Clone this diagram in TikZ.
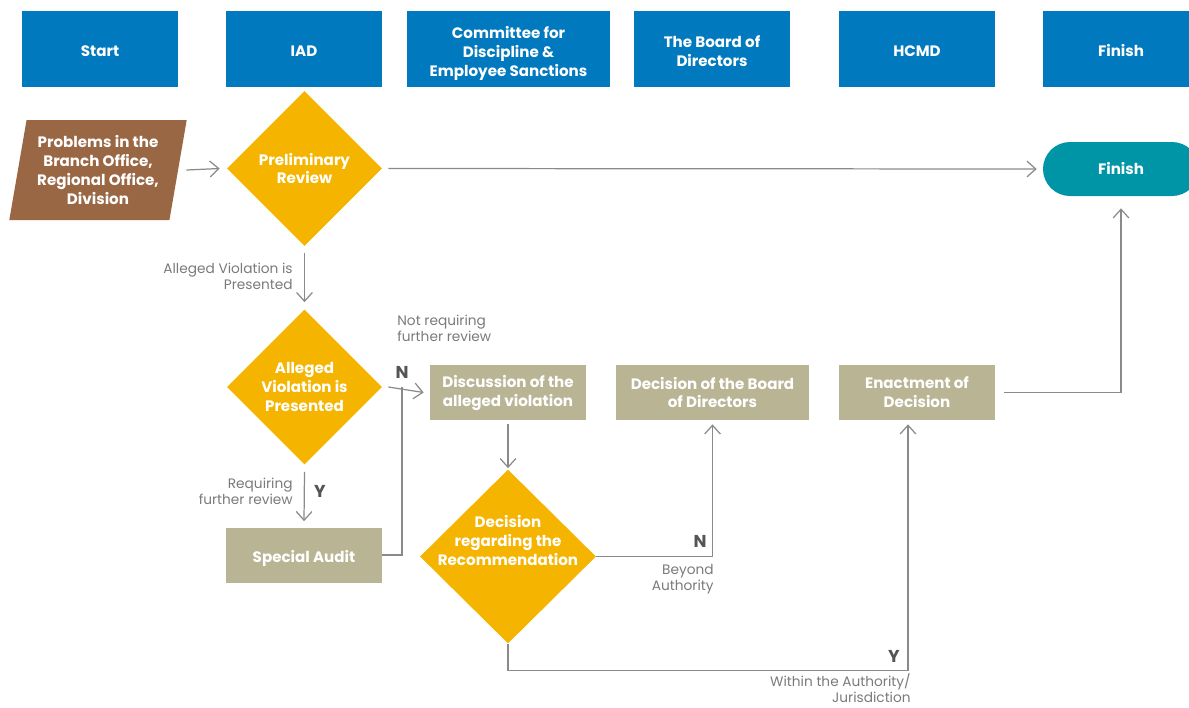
\documentclass[tikz,border=0pt]{standalone}
\usepackage{fontspec}
\setmainfont{Poppins}
\usetikzlibrary{shapes.geometric,arrows.meta}

\definecolor{hdrblue}{HTML}{0079BE}
\definecolor{stepTan}{HTML}{B9B494}
\definecolor{gold}{HTML}{F5B400}
\definecolor{clay}{HTML}{9A6744}
\definecolor{tealfin}{HTML}{0095A6}
\definecolor{linegray}{HTML}{8A8A8A}
\definecolor{labelgray}{HTML}{7A7A7A}
\definecolor{yngray}{HTML}{555555}

\newcommand\pxu{0.02cm}
\newcommand\headfont{\fontsize{8.6}{10.8}\selectfont\bfseries}
\newcommand\lblfont{\fontsize{7.8}{9.0}\selectfont}
\newcommand\ynfont{\fontsize{9.8}{10}\selectfont\bfseries}

\tikzset{
  hdr/.style={fill=hdrblue, minimum width=156*\pxu, minimum height=76*\pxu, inner sep=0pt},
  stepbox/.style={fill=stepTan, minimum width=156*\pxu, minimum height=55*\pxu, inner sep=0pt},
  decision/.style={diamond, fill=gold, inner sep=0pt, aspect=1},
  wtext/.style={text=white, font=\headfont, align=center},
  arr/.style={draw=linegray, line width=0.7pt,
    -{Straight Barb[length=5pt,width=9pt]}},
  link/.style={draw=linegray, line width=0.7pt},
  lbl/.style={text=labelgray, font=\lblfont, align=right, inner sep=0pt},
  lblL/.style={text=labelgray, font=\lblfont, align=left, inner sep=0pt},
  yn/.style={text=yngray, font=\ynfont, inner sep=0pt},
}

\begin{document}
\begin{tikzpicture}[x=0.02cm, y=-0.02cm]
\useasboundingbox (0,0) rectangle (1189,707);
\clip (0,0) rectangle (1189,707);

% swimlane headers
\node[hdr, label={[wtext, yshift=-2*\pxu]center:Start}] (h1) at (100,49) {};
\node[hdr, label={[wtext, yshift=-2*\pxu]center:IAD}] (h2) at (304,49) {};
\node[hdr, minimum width=203*\pxu,
  label={[wtext, yshift=-4*\pxu]center:Committee for\\Discipline \&\\Employee Sanctions}] (h3) at (508.5,49) {};
\node[hdr, label={[wtext, yshift=-2*\pxu]center:The Board of\\Directors}] (h4) at (712,49) {};
\node[hdr, label={[wtext, yshift=-2*\pxu]center:HCMD}] (h5) at (917,49) {};
\node[hdr, label={[wtext, yshift=-2*\pxu]center:Finish}] (h6) at (1121,49) {};

% start input
\node[trapezium, trapezium left angle=78, trapezium right angle=102,
  trapezium stretches=true, minimum width=178*\pxu, minimum height=100*\pxu,
  fill=clay, inner sep=0pt, wtext]
  (prob) at (98,170) {Problems in the\\Branch Office,\\Regional Office,\\Division};

% decisions
\node[decision, minimum width=155*\pxu, minimum height=155*\pxu,
  label={[wtext]center:Preliminary\\Review}] (pr) at (304.5,168.5) {};
\node[decision, minimum width=155*\pxu, minimum height=155*\pxu,
  label={[wtext]center:Alleged\\Violation is\\Presented}] (av) at (304.5,387) {};
\node[decision, minimum width=176*\pxu, minimum height=174*\pxu,
  label={[wtext, yshift=16*\pxu]center:Decision\\regarding the\\Recommendation}] (dec) at (508,556.5) {};

% terminal
\node[fill=tealfin, rounded corners=27*\pxu, minimum width=156*\pxu,
  minimum height=54*\pxu, inner sep=0pt,
  label={[wtext]center:Finish}] (fin) at (1121,169) {};

% process steps
\node[stepbox, label={[wtext, yshift=-3*\pxu]center:Special Audit}] (audit) at (304,555) {};
\node[stepbox, label={[wtext, yshift=-1*\pxu]center:Discussion of the\\alleged violation}] (disc) at (508,392.5) {};
\node[stepbox, minimum width=193*\pxu,
  label={[wtext]center:Decision of the Board\\of Directors}] (board) at (712.5,392.5) {};
\node[stepbox, label={[wtext]center:Enactment of\\Decision}] (enact) at (917,392.5) {};

\coordinate (nj) at (402,387);

% connectors
\draw[arr] ([xshift=8*\pxu]prob.east) -- ([xshift=-7*\pxu]pr.west);
\draw[arr] ([xshift=6*\pxu]pr.east) -- ([xshift=-6*\pxu]fin.west);
\draw[arr] ([yshift=-7*\pxu]pr.south) -- ([yshift=7*\pxu]av.north);
\draw[arr] ([xshift=6*\pxu]av.east) -- ([xshift=-6*\pxu]disc.west);
\draw[arr] ([yshift=-7*\pxu]av.south) -- ([yshift=6*\pxu]audit.north);
\draw[link] (audit.east) -| (nj);
\draw[arr] ([yshift=-4*\pxu]disc.south) -- ([yshift=1*\pxu]dec.north);
\draw[arr] (dec.east) -| ([yshift=-4*\pxu]board.south);
\draw[arr] (dec.south) -- ++(0,27) -| ([xshift=-9*\pxu,yshift=-4*\pxu]enact.south);
\draw[arr] ([xshift=9*\pxu]enact.east) -| ([yshift=-12*\pxu]fin.south);

% branch labels
\node[lbl, anchor=east] at (293,276) {Alleged Violation is\\Presented};
\node[lblL, anchor=west] at (397,328) {Not requiring\\further review};
\node[yn] at (402,372) {N};
\node[lbl, anchor=east] at (293,491) {Requiring\\further review};
\node[yn] at (320,491) {Y};
\node[yn] at (700,541) {N};
\node[lbl, anchor=east] at (714,579) {Beyond\\Authority};
\node[yn] at (894,656) {Y};
\node[lbl, anchor=east] at (911,688) {Within the Authority/\\Jurisdiction};
\end{tikzpicture}
\end{document}
